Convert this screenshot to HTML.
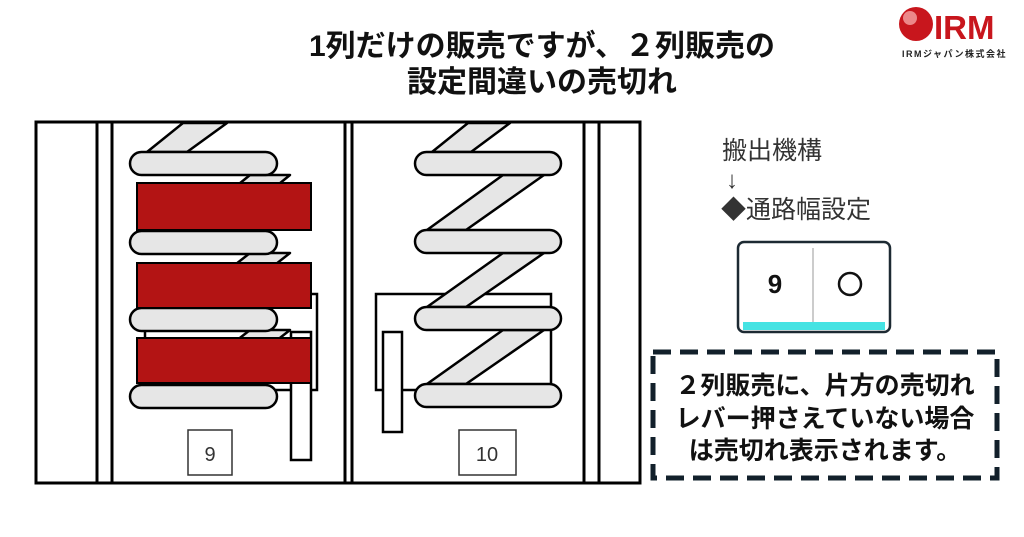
<!DOCTYPE html>
<html><head><meta charset="utf-8"><style>
body{margin:0;background:#fff;}
svg{display:block}
text{font-family:"Liberation Sans","Noto Sans CJK JP",sans-serif}
</style></head><body>
<svg width="1024" height="537" viewBox="0 0 1024 537" xmlns="http://www.w3.org/2000/svg">
<rect width="1024" height="537" fill="#fff"/>
<text x="542" y="56" text-anchor="middle" font-size="30" font-weight="bold" fill="#111">1列だけの販売ですが、２列販売の</text>
<text x="542" y="92" text-anchor="middle" font-size="30" font-weight="bold" fill="#111">設定間違いの売切れ</text>
<!-- logo -->
<circle cx="916" cy="24" r="17" fill="#c8161d"/>
<circle cx="910" cy="18" r="7" fill="#f5a5a5" opacity="0.8"/>
<text x="934" y="39" font-size="33" font-weight="bold" fill="#c8161d">IRM</text>
<text x="902" y="57" font-size="9" font-weight="bold" fill="#222" letter-spacing="1.5">IRMジャパン株式会社</text>

<g stroke="#000" stroke-width="3" fill="#fff">
<rect x="36" y="122" width="604" height="361"/>
<rect x="97" y="122" width="15" height="361"/>
<rect x="345" y="122" width="7" height="361"/>
<rect x="584" y="122" width="15" height="361"/>
</g>
<g stroke="#000" stroke-width="2.5" fill="#fff">
<rect x="145" y="294" width="172" height="96"/>
<rect x="376" y="294" width="175" height="96"/>
</g>
<g stroke="#000" stroke-width="2.5" fill="#e6e6e6" stroke-linejoin="round">
<polygon points="147,152 183,123 227,123 187,152"/>
<polygon points="180,232 250,175 290,175 220,232"/>
<polygon points="180,308 250,253 290,253 220,308"/>
<polygon points="180,385 250,330 290,330 220,385"/>
<polygon points="432,152 468,123 510,123 471,152"/>
<polygon points="427,230 503,175 544,175 466,230"/>
<polygon points="427,307 503,253 544,253 466,307"/>
<polygon points="427,384 503,330 544,330 466,384"/>
<rect x="130" y="152" width="147" height="23" rx="11.5"/>
<rect x="130" y="231" width="147" height="23" rx="11.5"/>
<rect x="130" y="308" width="147" height="23" rx="11.5"/>
<rect x="130" y="385" width="147" height="23" rx="11.5"/>
<rect x="415" y="152" width="146" height="23" rx="11.5"/>
<rect x="415" y="230" width="146" height="23" rx="11.5"/>
<rect x="415" y="307" width="146" height="23" rx="11.5"/>
<rect x="415" y="384" width="146" height="23" rx="11.5"/>
</g>
<g stroke="#000" stroke-width="2.5" fill="#fff">
<rect x="291" y="332" width="20" height="128"/>
<rect x="383" y="332" width="19" height="100"/>
</g>
<g fill="#b31414" stroke="#000" stroke-width="2">
<rect x="137" y="183" width="174" height="47"/>
<rect x="137" y="263" width="174" height="45"/>
<rect x="137" y="338" width="174" height="45"/>
</g>
<g stroke="#333" stroke-width="1.5" fill="#fff">
<rect x="188" y="430" width="44" height="45"/>
<rect x="459" y="430" width="57" height="45"/>
</g>
<text x="210" y="461" text-anchor="middle" font-size="20" fill="#333">9</text>
<text x="487" y="461" text-anchor="middle" font-size="20" fill="#333">10</text>

<text x="722" y="159" font-size="25" fill="#333">搬出機構</text>
<text x="726" y="188" font-size="24" fill="#333">↓</text>
<text x="721" y="218" font-size="25" fill="#333">◆通路幅設定</text>
<rect x="738" y="242" width="152" height="90" rx="6" fill="#fff" stroke="#1d2a33" stroke-width="2.5"/>
<line x1="813" y1="248" x2="813" y2="322" stroke="#bbb" stroke-width="1.5"/>
<rect x="743" y="322" width="142" height="8" fill="#45e3e3"/>
<text x="775" y="293" text-anchor="middle" font-size="26" font-weight="bold" fill="#111">9</text>
<circle cx="850" cy="284" r="11" fill="none" stroke="#111" stroke-width="2.5"/>

<rect x="653" y="352" width="344" height="126" fill="#fff" stroke="#12202b" stroke-width="5" stroke-dasharray="18,9"/>
<text x="825" y="394" text-anchor="middle" font-size="25" font-weight="bold" fill="#111">２列販売に、片方の売切れ</text>
<text x="825" y="427" text-anchor="middle" font-size="25" font-weight="bold" fill="#111">レバー押さえていない場合</text>
<text x="825" y="459" text-anchor="middle" font-size="25" font-weight="bold" fill="#111">は売切れ表示されます。</text>
</svg>
</body></html>
